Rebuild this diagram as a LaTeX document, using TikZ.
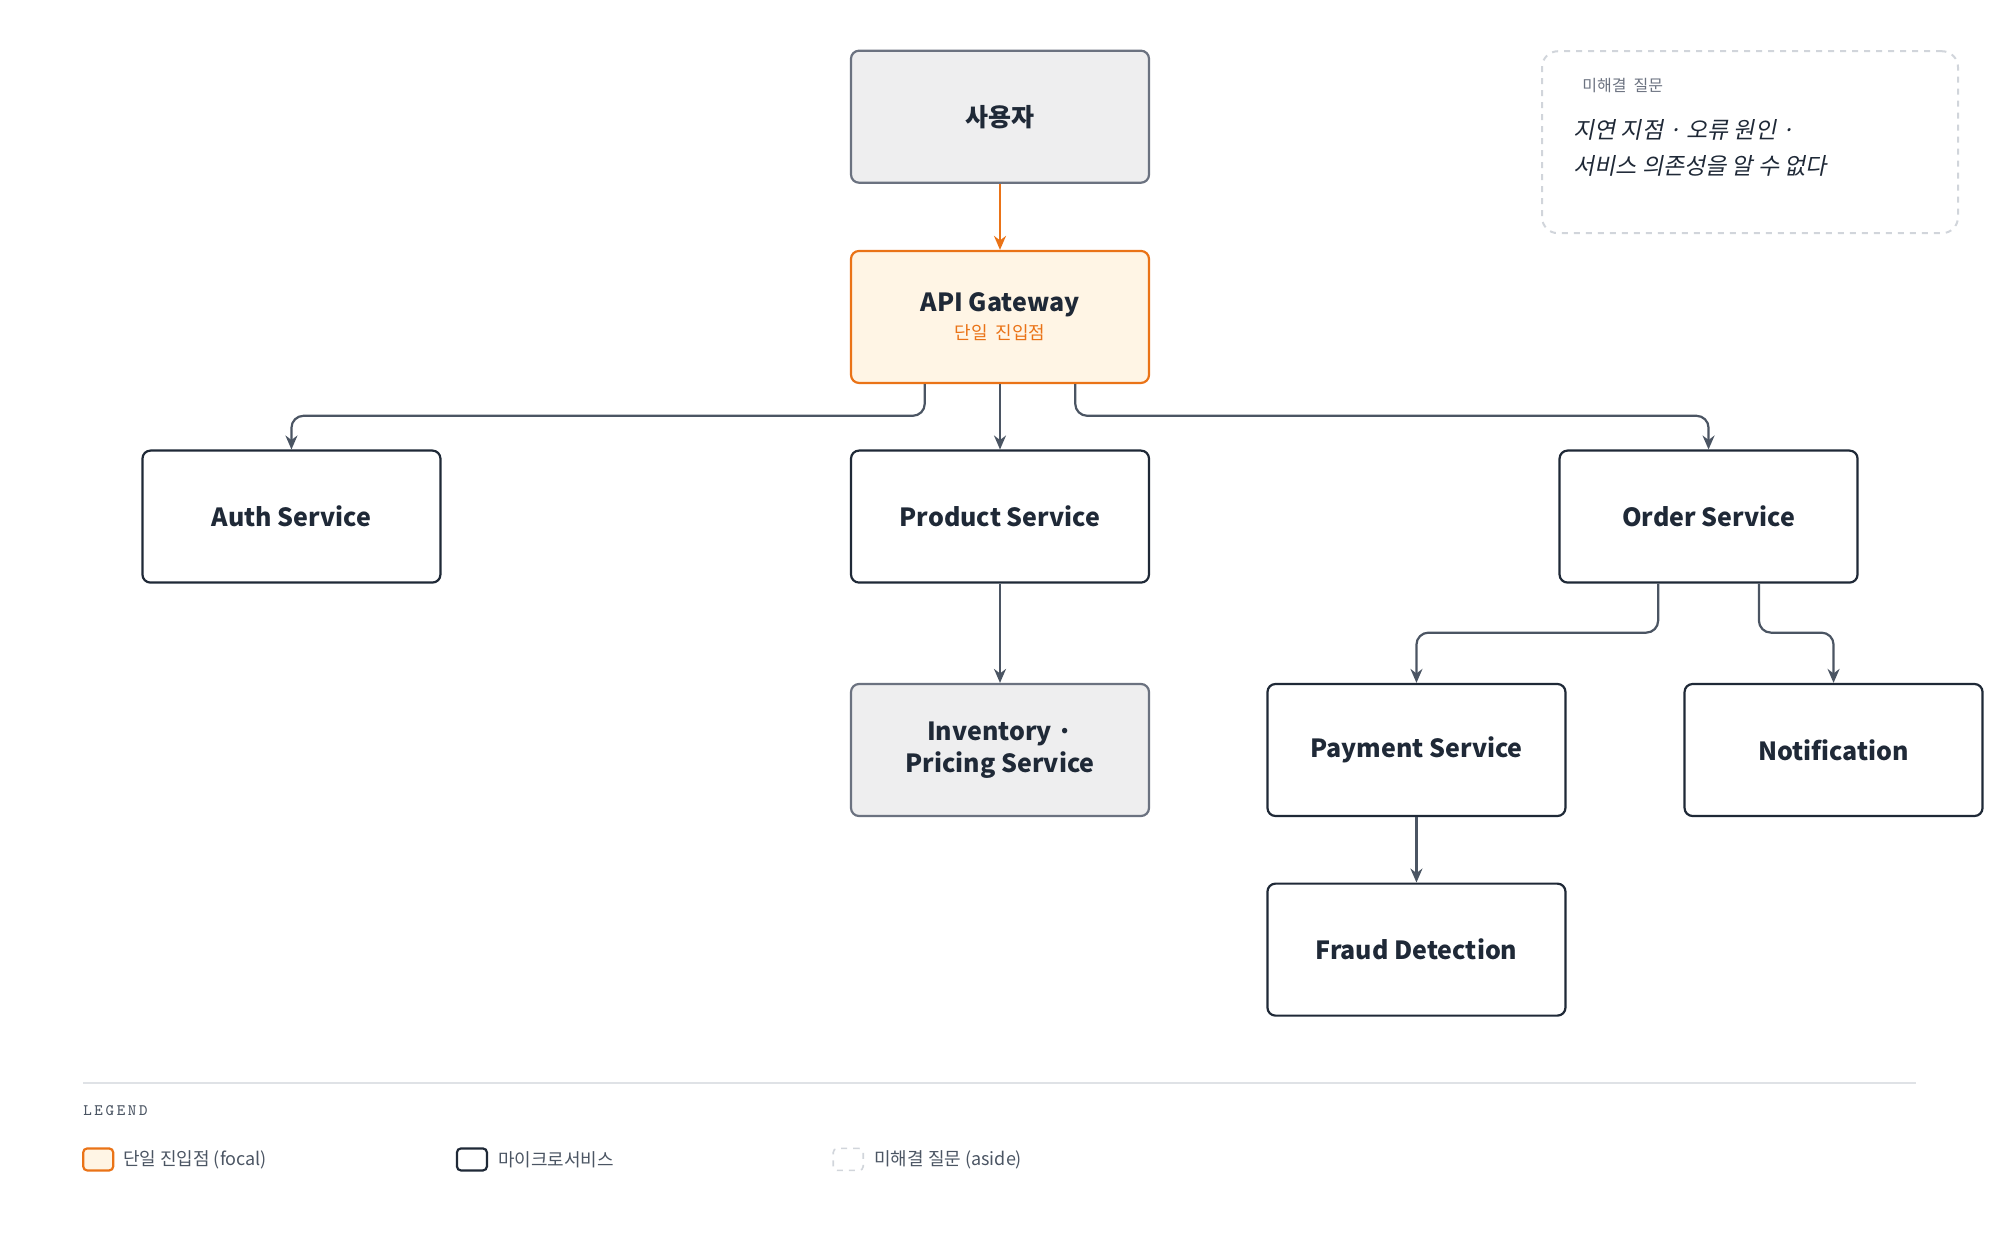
\documentclass[tikz,border=0pt]{standalone}
\usepackage{fontspec}
\setmainfont{Noto Sans CJK KR}
\newfontfamily\slantkr[FakeSlant=0.2]{Noto Sans CJK KR}
\usetikzlibrary{arrows.meta,positioning}
\definecolor{inkc}{HTML}{1F2937}
\definecolor{edgec}{HTML}{4B5563}
\definecolor{grayfill}{HTML}{EEEEEF}
\definecolor{grayline}{HTML}{6B7280}
\definecolor{focalc}{HTML}{EA7317}
\definecolor{focalfill}{HTML}{FFF5E5}
\definecolor{asidec}{HTML}{D1D5DB}
\definecolor{mutedc}{HTML}{6B7280}

\begin{document}
\begin{tikzpicture}[x=0.6378pt,y=-0.6378pt
  ,>={Stealth[length=7pt,width=6pt]}
  ,svc/.style={draw=inkc,line width=1.1pt,rounded corners=4pt,fill=white
    ,minimum width=149pt,minimum height=66pt,align=center
    ,font=\fontsize{12.5}{16}\selectfont\bfseries,text=inkc}
  ,muted/.style={svc,fill=grayfill,draw=grayline}
  ,focal/.style={svc,fill=focalfill,draw=focalc}
  ,link/.style={->,draw=edgec,line width=1.1pt,rounded corners=6pt}
  ,lgd/.style={font=\fontsize{9}{11}\selectfont,text=edgec,anchor=west}
  ,swatch/.style={rounded corners=2pt,minimum width=15pt,minimum height=11pt,line width=1.1pt}]
  \useasboundingbox (0,0) rectangle (1568,980);

  % top row
  \node[muted] (user) at (784,91.5) {사용자};
  \node[focal] (gw) at (784,248.5) {API Gateway\\[-2pt]
    {\fontsize{9}{11}\selectfont\mdseries\color{focalc}단일\ \ 진입점}};

  % services
  \node[svc] (auth) at (228.5,405) {Auth Service};
  \node[svc] (prod) at (784,405) {Product Service};
  \node[svc] (order) at (1339.5,405) {Order Service};
  \node[muted] (inv) at (784,588) {Inventory ·\\Pricing Service};
  \node[svc] (pay) at (1110.5,588) {Payment Service};
  \node[svc] (noti) at (1437.5,588) {Notification};
  \node[svc] (fraud) at (1110.5,744.5) {Fraud Detection};

  % aside
  \node[draw=asidec,dashed,line width=1pt,rounded corners=8pt
    ,minimum width=208pt,minimum height=91pt] (aside) at (1372,111.5) {};
  \node[anchor=west,font=\fontsize{8}{10}\selectfont,text=mutedc] (asidet) at (1235,67) {미해결\ \ 질문};
  \node[anchor=north west,align=left,font=\fontsize{11.5}{18}\slantkr,text=inkc] (asideb)
    at (1228,88) {지연 지점 · 오류 원인 ·\\서비스 의존성을 알 수 없다};

  % connectors
  \draw[->,draw=focalc,line width=1.1pt] (user) -- (gw);
  \draw[link] ([xshift=-59*0.6378pt]gw.south) |- (228.5,326) -- (auth.north);
  \draw[link] (gw) -- (prod);
  \draw[link] ([xshift=59*0.6378pt]gw.south) |- (1339.5,326) -- (order.north);
  \draw[link] (prod) -- (inv);
  \draw[link] ([xshift=-39.5*0.6378pt]order.south) |- (1110.5,496) -- (pay.north);
  \draw[link] ([xshift=39.5*0.6378pt]order.south) |- (1437.5,496) -- (noti.north);
  \draw[link] (pay) -- (fraud);

  % legend
  \draw[draw=asidec!70,line width=0.8pt] (65,849) -- (1502,849);
  \node[anchor=west,inner sep=0pt,font=\fontsize{8}{10}\ttfamily,text=edgec] (lgdt) at (65,871) {L\,E\,G\,E\,N\,D};
  \node[swatch,draw=focalc,fill=focalfill] (k1) at (77,909) {};
  \node[lgd] at (91,909) {단일 진입점 (focal)};
  \node[swatch,draw=inkc,fill=white] (k2) at (370,909) {};
  \node[lgd] at (385,909) {마이크로서비스};
  \node[swatch,draw=asidec,dashed,line width=0.8pt] (k3) at (665,909) {};
  \node[lgd] at (680,909) {미해결 질문 (aside)};
\end{tikzpicture}
\end{document}
